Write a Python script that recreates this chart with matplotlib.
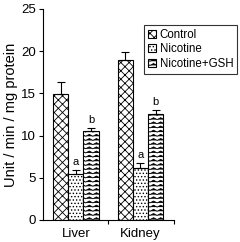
import warnings
warnings.filterwarnings("ignore")
import matplotlib
matplotlib.use("Agg")
import matplotlib.pyplot as plt
import matplotlib.hatch as mhatch
from matplotlib.path import Path
import numpy as np

plt.rcParams['font.family'] = ['Liberation Sans', 'DejaVu Sans']
plt.rcParams['hatch.linewidth'] = 0.6


class ZigZagHatch(mhatch.HatchPatternBase):
    def __init__(self, hatch, density):
        self.num_rows = int(hatch.count('z') * density)
        self.num_zig = max(1, int(self.num_rows * 0.6))
        self.per_row = 2 * self.num_zig + 1
        self.num_vertices = self.num_rows * self.per_row

    def set_vertices_and_codes(self, vertices, codes):
        if self.num_rows == 0:
            return
        step = 1.0 / self.num_rows
        amp = step * 0.45
        k = np.arange(self.per_row)
        xs = k / (2.0 * self.num_zig)
        for r in range(self.num_rows):
            y0 = (r + 0.3) * step
            sl = slice(r * self.per_row, (r + 1) * self.per_row)
            vertices[sl, 0] = xs
            vertices[sl, 1] = y0 + amp * (k % 2)
            codes[sl] = Path.LINETO
            codes[r * self.per_row] = Path.MOVETO


mhatch._hatch_types.append(ZigZagHatch)

organs = ["Liver", "Kidney"]
series = ["Control", "Nicotine", "Nicotine+GSH"]
control = [14.9, 19.0]
control_err = [1.4, 0.9]
nicotine = [5.4, 6.2]
nicotine_err = [0.5, 0.5]
gsh = [10.6, 12.6]
gsh_err = [0.3, 0.4]
nic_labels = ["a", "a"]
gsh_labels = ["b", "b"]

fig = plt.figure(figsize=(2.40, 2.42), dpi=100)
ax = fig.add_axes([0.179, 0.091, 0.546, 0.872])

x = np.arange(len(organs))
w = 0.235
vals = [control, nicotine, gsh]
errs = [control_err, nicotine_err, gsh_err]
hatches = ['xxxx', '.....', 'zzzz']
for i, (v, e, h, name) in enumerate(zip(vals, errs, hatches, series)):
    pos = x + (i - 1) * w
    ax.bar(pos, v, w, color='white', edgecolor='black', hatch=h, linewidth=0.8, label=name, zorder=2)
    ax.errorbar(pos, v, yerr=[np.zeros(len(e)), e], fmt='none', ecolor='black', elinewidth=0.8, capsize=3, capthick=0.8, zorder=3)
    if i == 1:
        for p, vv, ee, t in zip(pos, v, e, nic_labels):
            ax.text(p, vv + ee + 0.4, t, ha='center', va='bottom', fontsize=8)
    if i == 2:
        for p, vv, ee, t in zip(pos, v, e, gsh_labels):
            ax.text(p, vv + ee + 0.4, t, ha='center', va='bottom', fontsize=8)

ax.set_xlim(-0.51, 1.52)
ax.set_ylim(0, 25)
ax.set_yticks([0, 5, 10, 15, 20, 25])
ax.set_xticks(x)
ax.set_xticklabels(organs, fontsize=9.5)
ax.tick_params(axis='x', length=0, pad=6)
ax.set_xticks([0.5, 1.52], minor=True)
ax.tick_params(axis='x', which='minor', length=3, width=0.8, direction='out')
ax.tick_params(axis='y', length=3, width=0.8, direction='out', labelsize=9.5, pad=2)
ax.spines['top'].set_visible(False)
ax.spines['right'].set_visible(False)
ax.spines['left'].set_linewidth(0.8)
ax.spines['bottom'].set_linewidth(0.8)
ax.set_ylabel("Unit / min / mg protein", fontsize=10.5, labelpad=2)

leg = ax.legend(loc='upper left', bbox_to_anchor=(144/240, 1 - 25/242), bbox_transform=fig.transFigure,
                fontsize=8.3, frameon=True, fancybox=False, handlelength=0.7, handleheight=0.7,
                handletextpad=0.3, borderpad=0.35, labelspacing=0.2, borderaxespad=0)
leg.get_frame().set_edgecolor('black')
leg.get_frame().set_linewidth(0.8)

fig.savefig("out.png", dpi=100)
